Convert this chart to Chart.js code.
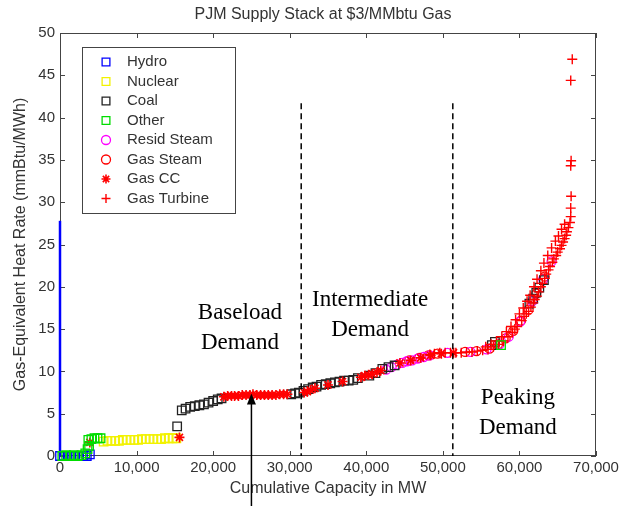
<!DOCTYPE html>
<html>
<head>
<meta charset="utf-8">
<script src="https://cdn.jsdelivr.net/npm/chart.js@4.4.1/dist/chart.umd.min.js"></script>
<style>
  html, body { margin: 0; padding: 0; background: #ffffff; }
  canvas { display: block; }
</style>
</head>
<body>
<canvas id="stack" width="632" height="506"></canvas>
<script>
// ---- Text ----
const chartTitle = 'PJM Supply Stack at $3/MMbtu Gas';
const xTitle = 'Cumulative Capacity in MW';
const yTitle = 'Gas-Equivalent Heat Rate (mmBtu/MWh)';

// ---- Axis ticks ----
const xTicks = [0, 10000, 20000, 30000, 40000, 50000, 60000, 70000];
const yTicks = [0, 5, 10, 15, 20, 25, 30, 35, 40, 45, 50];

// ---- Series: [cumulative MW, heat rate] ----
const hydro = [[0,0],[500,0],[1000,0],[1500,0],[2000,0],[2500,0],[3000,0],[3500,0],[3900,0.2]];
// hydro units stacked at zero capacity, drawn as a single vertical run
const hydroSpan = [[0,0],[0,27.8]];

const other = [[300,0],[800,0.1],[1300,0],[1800,0.1],[2300,0],[2800,0.1],[3300,0.3],[3600,0.8],
  [3800,1.2],[3700,1.9],[4100,2.0],[4500,2.1],[4900,2.1],[5300,2.1],[57600,13.1]];

const nuclear = [[5700,1.7],[6200,1.8],[6700,1.8],[7200,1.8],[7700,1.8],[8200,1.9],[8700,1.9],
  [9200,1.9],[9700,1.9],[10200,1.9],[10700,2.0],[11200,2.0],[11700,2.0],[12200,2.0],[12700,2.0],
  [13200,2.0],[13700,2.1],[14200,2.1],[14700,2.1],[15200,2.1]];

const coal = [[15300,3.5],[15900,5.4],[16400,5.6],[17000,5.8],[17600,5.9],[18200,6.0],[18800,6.1],
  [19400,6.3],[20000,6.5],[20600,6.7],[21100,6.8],[30200,7.3],[30700,7.4],[31200,7.5],[31800,7.7],
  [32400,7.9],[33000,8.1],[33500,8.2],[34100,8.4],[34700,8.5],[35300,8.6],[35900,8.7],[36500,8.8],
  [37100,8.9],[37700,8.9],[38300,9.0],[38900,9.2],[40400,9.5],[41200,9.8],[42100,10.3],[42900,10.5],
  [43700,10.7],[56400,13.1],[56800,13.5],[61300,18.0],[61800,18.6],[62200,19.3],[62600,19.9],[63200,20.8]];

const residSteam = [[42600,10.2],[43300,10.5],[44000,10.8],[44700,11.0],[45300,11.2],[46000,11.3],
  [46700,11.5],[47500,11.7],[48300,11.9],[50600,12.2],[53600,12.3],[55700,12.6],[57400,13.2],
  [58600,14.1],[60100,15.9],[61700,18.3],[63100,20.9],[64200,23.0]];

const gasSteam = [[45600,11.3],[46900,11.6],[48100,11.9],[49300,12.1],[52900,12.3],[54400,12.4],
  [56100,12.7],[57200,13.2],[58200,13.9],[59200,14.8],[60200,16.0],[61200,17.3],[62200,19.2],[63300,21.2]];

const gasCC = [[3900,1.6],[15600,2.2],[21400,7.0],[21900,7.1],[22400,7.1],[22800,7.1],[23300,7.1],
  [23800,7.2],[24300,7.2],[24800,7.2],[25200,7.3],[25700,7.2],[26200,7.2],[26700,7.2],[27200,7.2],
  [27700,7.2],[28200,7.2],[28700,7.3],[29200,7.3],[29700,7.3],[31900,7.5],[32300,7.6],[32700,7.8],
  [33300,8.0],[35000,8.4],[36900,8.8],[39300,9.3],[39800,9.5],[40300,9.6],[40800,9.7],[41400,9.9],
  [41900,10.1],[44400,11.0],[45800,11.3],[47100,11.6],[48400,11.9],[49800,12.1],[51400,12.2]];

const gasTurbine = [[48300,12.0],[48900,12.1],[49600,12.2],[50300,12.2],[51000,12.2],[51700,12.2],
  [52400,12.2],[53100,12.3],[53800,12.3],[54500,12.4],[55200,12.5],[55900,12.6],[56600,12.9],
  [57300,13.2],[57900,13.6],[58500,14.1],[59100,14.6],[59400,15.0],[59700,15.3],[60300,16.0],
  [60600,16.5],[60900,16.8],[61200,17.1],[61500,17.6],[61800,18.1],[62000,18.5],[62300,18.9],
  [62500,19.4],[62800,20.0],[63000,20.4],[63300,21.0],[63500,21.5],[63800,22.0],[64000,22.4],
  [64300,22.9],[64500,23.3],[64800,23.7],[65000,24.1],[65300,24.5],[65500,24.9],[65700,25.3],
  [65900,25.7],[66100,26.1],[66200,26.5],[66400,27.0],[66600,27.6],[66700,28.3],[66700,29.3],
  [66750,30.7],[66700,34.3],[66750,34.9],[66700,44.4],[66900,46.9],
  [55600,12.9],[56300,13.2],[57000,13.6],[57700,14.1],[58300,14.7],[58900,15.3],[59500,16.1],
  [60000,16.8],[60500,17.5],[61000,18.3],[61400,19.0],[61900,20.0],[62300,20.9],[62800,21.9],
  [63200,22.8],[63700,23.7],[64200,24.6],[64700,25.4],[65100,26.0],[65500,26.8],[65900,27.4]];

// ---- Demand-region annotations ----
const regionBounds = [31500, 51300];   // MW, dashed dividers
const regionTop = 41.7;                // heat rate where dividers start
const regionLabels = [
  { x: 23500, y: [16.9, 13.4], lines: ['Baseload', 'Demand'] },
  { x: 40500, y: [18.4, 14.9], lines: ['Intermediate', 'Demand'] },
  { x: 59800, y: [6.9, 3.3],   lines: ['Peaking', 'Demand'] }
];
const arrowPoint = [25000, 7.4];

const toXY = arr => arr.map(p => ({ x: p[0], y: p[1] }));

const series = [
  { name: 'Hydro',       data: hydro,      color: '#0000ff', style: 'rect',   r: 6,   lw: 1.3, order: 1 },
  { name: 'Nuclear',     data: nuclear,    color: '#f2f200', style: 'rect',   r: 6,   lw: 1.3, order: 3 },
  { name: 'Coal',        data: coal,       color: '#222222', style: 'rect',   r: 6,   lw: 1.3, order: 4 },
  { name: 'Other',       data: other,      color: '#00dd00', style: 'rect',   r: 6,   lw: 1.3, order: 0 },
  { name: 'Resid Steam', data: residSteam, color: '#ff00ff', style: 'circle', r: 4.5, lw: 1.3, order: 5 },
  { name: 'Gas Steam',   data: gasSteam,   color: '#ff0000', style: 'circle', r: 4.5, lw: 1.3, order: 6 },
  { name: 'Gas CC',      data: gasCC,      color: '#ff0000', style: 'star',   r: 5,   lw: 1.6, order: 2 },
  { name: 'Gas Turbine', data: gasTurbine, color: '#ff0000', style: 'cross',  r: 5,   lw: 1.4, order: 2 }
];

const datasets = series.map(s => ({
  label: s.name,
  data: toXY(s.data),
  pointStyle: s.style,
  pointRadius: s.r,
  pointBorderWidth: s.lw,
  borderColor: s.color,
  backgroundColor: 'rgba(0,0,0,0)',
  showLine: false,
  clip: false,
  order: s.order
}));
datasets.push({
  label: '_hydroSpan',
  data: toXY(hydroSpan),
  showLine: true,
  borderColor: '#0000ff',
  borderWidth: 2.5,
  pointRadius: 0,
  clip: false,
  order: 0
});

const SANS = '"Liberation Sans", Arial, Helvetica, sans-serif';
const SERIF = '"Liberation Serif", "Times New Roman", serif';

function drawMarker(ctx, style, x, y, r, color, lw) {
  ctx.save();
  ctx.strokeStyle = color;
  ctx.lineWidth = lw;
  ctx.beginPath();
  if (style === 'rect') {
    const s = r * Math.SQRT1_2;
    ctx.rect(x - s, y - s, 2 * s, 2 * s);
  } else if (style === 'circle') {
    ctx.arc(x, y, r, 0, Math.PI * 2);
  } else {
    ctx.moveTo(x - r, y); ctx.lineTo(x + r, y);
    ctx.moveTo(x, y - r); ctx.lineTo(x, y + r);
    if (style === 'star') {
      const d = r * Math.SQRT1_2;
      ctx.moveTo(x - d, y - d); ctx.lineTo(x + d, y + d);
      ctx.moveTo(x - d, y + d); ctx.lineTo(x + d, y - d);
    }
  }
  ctx.stroke();
  ctx.restore();
}

const decorations = {
  id: 'decorations',
  beforeDatasetsDraw(chart) {
    const { ctx, chartArea: a, scales: { x, y } } = chart;
    ctx.save();
    // axes box with inward ticks, beneath the markers
    ctx.strokeStyle = '#444';
    ctx.lineWidth = 1;
    ctx.strokeRect(a.left + 0.5, a.top + 0.5, a.right - a.left - 1, a.bottom - a.top - 1);
    ctx.beginPath();
    const tl = 5;
    xTicks.forEach(v => {
      const px = Math.round(x.getPixelForValue(v)) + 0.5;
      ctx.moveTo(px, a.bottom); ctx.lineTo(px, a.bottom - tl);
      ctx.moveTo(px, a.top); ctx.lineTo(px, a.top + tl);
    });
    yTicks.forEach(v => {
      const py = Math.round(y.getPixelForValue(v)) + 0.5;
      ctx.moveTo(a.left, py); ctx.lineTo(a.left + tl, py);
      ctx.moveTo(a.right, py); ctx.lineTo(a.right - tl, py);
    });
    ctx.stroke();
    ctx.restore();
  },
  afterDraw(chart) {
    const { ctx, chartArea: a, scales: { x, y } } = chart;
    ctx.save();

    // title
    ctx.fillStyle = '#333';
    ctx.font = '16px ' + SANS;
    ctx.textAlign = 'center';
    ctx.textBaseline = 'middle';
    ctx.fillText(chartTitle, 323, 15);

    // dashed region dividers
    ctx.strokeStyle = '#000';
    ctx.lineWidth = 1.5;
    ctx.setLineDash([6, 4]);
    regionBounds.forEach(v => {
      const px = x.getPixelForValue(v);
      ctx.beginPath();
      ctx.moveTo(px, y.getPixelForValue(regionTop));
      ctx.lineTo(px, y.getPixelForValue(0));
      ctx.stroke();
    });
    ctx.setLineDash([]);

    // region labels
    ctx.fillStyle = '#000';
    ctx.font = '23px ' + SERIF;
    ctx.textAlign = 'center';
    ctx.textBaseline = 'middle';
    regionLabels.forEach(l => {
      l.lines.forEach((t, i) => {
        ctx.fillText(t, x.getPixelForValue(l.x), y.getPixelForValue(l.y[i]));
      });
    });

    // arrow pointing at the baseload gas CC block
    const ax = x.getPixelForValue(arrowPoint[0]);
    const ay = y.getPixelForValue(arrowPoint[1]);
    ctx.strokeStyle = '#000';
    ctx.lineWidth = 1.5;
    ctx.beginPath();
    ctx.moveTo(ax, chart.height);
    ctx.lineTo(ax, ay + 8);
    ctx.stroke();
    ctx.fillStyle = '#000';
    ctx.beginPath();
    ctx.moveTo(ax, ay);
    ctx.lineTo(ax - 4.5, ay + 11);
    ctx.lineTo(ax + 4.5, ay + 11);
    ctx.closePath();
    ctx.fill();

    // legend
    const lx = a.left + 22, ly = a.top + 14, lw = 153, lh = 166;
    ctx.fillStyle = '#fff';
    ctx.fillRect(lx, ly, lw, lh);
    ctx.strokeStyle = '#444';
    ctx.lineWidth = 1;
    ctx.strokeRect(lx + 0.5, ly + 0.5, lw, lh);
    ctx.font = '15px ' + SANS;
    ctx.textAlign = 'left';
    ctx.textBaseline = 'middle';
    series.forEach((s, i) => {
      const ry = ly + 15 + i * 19.5;
      drawMarker(ctx, s.style, lx + 24, ry, s.style === 'rect' ? 5.5 : 4.5, s.color, s.lw);
      ctx.fillStyle = '#333';
      ctx.fillText(s.name, lx + 45, ry);
    });

    ctx.restore();
  }
};

new Chart(document.getElementById('stack'), {
  type: 'scatter',
  data: { datasets },
  plugins: [decorations],
  options: {
    responsive: false,
    animation: false,
    devicePixelRatio: 1,
    layout: { padding: { top: 33, right: 36, bottom: 0, left: 0 } },
    plugins: { legend: { display: false }, tooltip: { enabled: false }, title: { display: false } },
    scales: {
      x: {
        type: 'linear', min: 0, max: 70000,
        afterFit: s => { s.height = 50; },
        afterBuildTicks: s => { s.ticks = xTicks.map(v => ({ value: v })); },
        grid: { display: false, drawTicks: false },
        border: { display: false },
        ticks: {
          padding: 3, color: '#333', font: { family: SANS, size: 15 },
          maxRotation: 0,
          callback: v => v.toLocaleString('en-US')
        },
        title: { display: true, text: xTitle, color: '#333', font: { family: SANS, size: 16 }, padding: { top: 0, bottom: 8 } }
      },
      y: {
        type: 'linear', min: 0, max: 50,
        afterFit: s => { s.width = 60; },
        afterBuildTicks: s => { s.ticks = yTicks.map(v => ({ value: v })); },
        grid: { display: false, drawTicks: false },
        border: { display: false },
        ticks: { padding: 5, color: '#333', font: { family: SANS, size: 15 } },
        title: { display: true, text: yTitle, color: '#333', font: { family: SANS, size: 16 }, padding: { top: 11, bottom: 0 } }
      }
    }
  }
});
</script>
</body>
</html>
